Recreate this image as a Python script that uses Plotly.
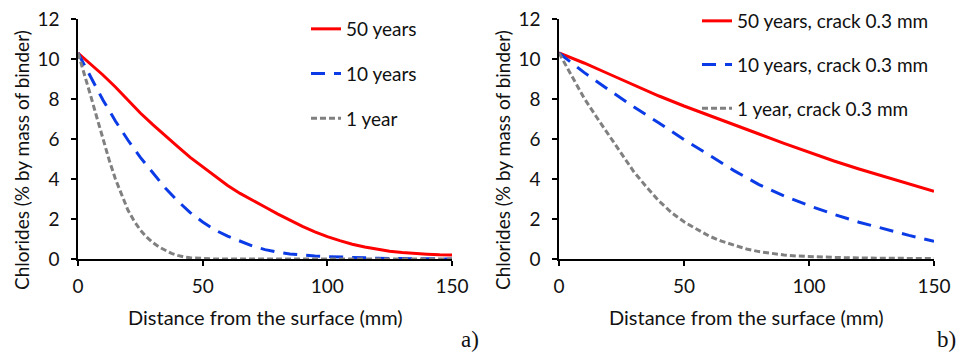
import plotly.graph_objects as go

# ---------------- data ----------------
# Panel a) no crack
xa_50 = [0, 5, 10, 15, 20, 25, 30, 35, 40, 45, 50, 55, 60, 65, 70, 75, 80, 85, 90, 95,
         100, 105, 110, 115, 120, 125, 130, 135, 140, 145, 150]
ya_50 = [10.3, 9.75, 9.2, 8.6, 7.95, 7.3, 6.72, 6.15, 5.62, 5.08, 4.6, 4.12, 3.68, 3.28,
         2.92, 2.6, 2.26, 1.93, 1.63, 1.36, 1.12, 0.92, 0.74, 0.6, 0.48, 0.39, 0.32,
         0.27, 0.24, 0.21, 0.2]

xa_10 = [0, 5, 10, 15, 20, 25, 30, 35, 40, 45, 50, 55, 60, 65, 70, 75, 80, 85, 90, 95,
         100, 110, 120, 130, 140, 150]
ya_10 = [10.3, 9.13, 7.95, 6.9, 5.95, 5.08, 4.3, 3.55, 2.9, 2.32, 1.85, 1.45, 1.14, 0.88,
         0.65, 0.47, 0.34, 0.25, 0.19, 0.15, 0.12, 0.07, 0.04, 0.02, 0.01, 0.0]

xa_1 = [0, 2.5, 5, 7.5, 10, 12.5, 15, 17.5, 20, 22.5, 25, 27.5, 30, 32.5, 35, 37.5, 40,
        42.5, 45, 50, 55, 150]
ya_1 = [10.3, 9.3, 8.2, 7.1, 6.0, 4.95, 4.0, 3.2, 2.45, 1.9, 1.45, 1.1, 0.82, 0.6, 0.42,
        0.28, 0.18, 0.1, 0.06, 0.02, 0.0, 0.0]

# Panel b) crack 0.3 mm
xb_50 = [0, 10, 20, 30, 40, 50, 60, 70, 80, 90, 100, 110, 120, 130, 140, 150]
yb_50 = [10.3, 9.8, 9.25, 8.68, 8.15, 7.65, 7.17, 6.71, 6.25, 5.78, 5.33, 4.9, 4.5, 4.12,
         3.75, 3.38]

xb_10 = [0, 10, 20, 30, 40, 50, 60, 70, 80, 90, 100, 110, 120, 130, 140, 150]
yb_10 = [10.3, 9.33, 8.45, 7.6, 6.8, 5.97, 5.2, 4.42, 3.72, 3.15, 2.67, 2.23, 1.84, 1.5,
         1.18, 0.88]

xb_1 = [0, 5, 10, 15, 20, 25, 30, 35, 40, 45, 50, 55, 60, 65, 70, 75, 80, 85, 90, 95,
        100, 110, 120, 130, 150]
yb_1 = [10.3, 9.2, 8.05, 7.1, 6.2, 5.25, 4.35, 3.6, 2.9, 2.32, 1.86, 1.5, 1.15, 0.89,
        0.68, 0.5, 0.37, 0.27, 0.2, 0.15, 0.12, 0.08, 0.05, 0.03, 0.02]

names_a = ["50 years", "10 years", "1 year"]
names_b = ["50 years, crack 0.3 mm", "10 years, crack 0.3 mm", "1 year, crack 0.3 mm"]
x_ticks = [0, 50, 100, 150]
y_ticks = [0, 2, 4, 6, 8, 10, 12]
x_title = "Distance from the surface (mm)"
y_title = "Chlorides (% by mass of binder)"

# ---------------- styling ----------------
FONT = "Lato, Carlito, Calibri, sans-serif"
FS = 19
TXT = "#111111"
RED, BLUE, GREY = "#ff0000", "#0b3be6", "#808080"
W, H = 960, 354

def px_x(p):
    return p / W

def px_y(p):
    return (H - p) / H

styles = [
    dict(color=RED, width=3, dash="solid"),
    dict(color=BLUE, width=3, dash="14px,9px"),
    dict(color=GREY, width=3, dash="6px,3px"),
]

fig = go.Figure()

for (x, y), name, st in zip([(xa_50, ya_50), (xa_10, ya_10), (xa_1, ya_1)], names_a, styles):
    fig.add_trace(go.Scatter(x=x, y=y, mode="lines", name=name, line=st,
                             xaxis="x", yaxis="y", legend="legend",
                             legendgroup=name))
for (x, y), name, st in zip([(xb_50, yb_50), (xb_10, yb_10), (xb_1, yb_1)], names_b, styles):
    fig.add_trace(go.Scatter(x=x, y=y, mode="lines", name=name, line=st,
                             xaxis="x2", yaxis="y2", legend="legend2",
                             legendgroup=name))

ydom = [px_y(259), px_y(19)]
axis_common = dict(showline=True, linecolor="black", linewidth=1.5, ticks="outside",
                   ticklen=5, tickwidth=1.5, tickcolor="black", showgrid=False,
                   zeroline=False, automargin=False,
                   tickfont=dict(family=FONT, size=FS, color=TXT))

fig.update_layout(
    template="none",
    width=W, height=H,
    margin=dict(l=0, r=0, t=0, b=0, pad=0),
    paper_bgcolor="white", plot_bgcolor="white",
    font=dict(family=FONT, size=FS, color=TXT),
    xaxis=dict(domain=[px_x(78), px_x(452)], range=[0, 150], tickvals=x_ticks,
               anchor="y", ticklabelstandoff=4, **axis_common),
    yaxis=dict(domain=ydom, range=[0, 12], tickvals=y_ticks, anchor="x",
               ticklabelstandoff=8, **axis_common),
    xaxis2=dict(domain=[px_x(559), px_x(934)], range=[0, 150], tickvals=x_ticks,
                anchor="y2", ticklabelstandoff=4, **axis_common),
    yaxis2=dict(domain=ydom, range=[0, 12], tickvals=y_ticks, anchor="x2",
                ticklabelstandoff=8, **axis_common),
    legend=dict(x=px_x(306), y=px_y(10), xanchor="left", yanchor="top",
                bgcolor="rgba(0,0,0,0)", tracegroupgap=17, borderwidth=0,
                font=dict(family=FONT, size=FS, color=TXT)),
    legend2=dict(x=px_x(697), y=px_y(2), xanchor="left", yanchor="top",
                 bgcolor="rgba(0,0,0,0)", tracegroupgap=16, borderwidth=0,
                 font=dict(family=FONT, size=FS, color=TXT)),
    showlegend=True,
)

ann = []
for cx in [(78 + 452) / 2, (559 + 934) / 2]:
    ann.append(dict(text=x_title, x=px_x(cx), y=px_y(317), xref="paper", yref="paper",
                    showarrow=False, xanchor="center", yanchor="middle",
                    font=dict(family=FONT, size=20, color=TXT)))
for tx in [21, 502]:
    ann.append(dict(text=y_title, x=px_x(tx), y=px_y(160), xref="paper", yref="paper",
                    showarrow=False, textangle=-90, xanchor="center", yanchor="middle",
                    font=dict(family=FONT, size=FS, color=TXT)))
serif = dict(family="Liberation Serif, Times New Roman, serif", size=23, color=TXT)
ann.append(dict(text="a)", x=px_x(481), y=0, xref="paper", yref="paper",
                showarrow=False, xanchor="right", yanchor="bottom", font=serif))
ann.append(dict(text="b)", x=px_x(958), y=0, xref="paper", yref="paper",
                showarrow=False, xanchor="right", yanchor="bottom", font=serif))
fig.update_layout(annotations=ann)

fig.write_html("out.html", config={"displayModeBar": False},
               post_script="document.body.style.margin='0';document.body.style.padding='0';")
